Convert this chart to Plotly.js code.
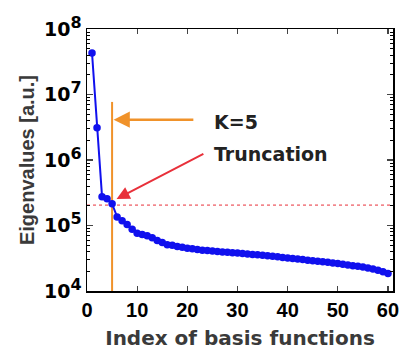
<!DOCTYPE html>
<html><head><meta charset="utf-8">
<script src="https://cdn.plot.ly/plotly-3.0.1.min.js"></script>
<style>html,body{margin:0;padding:0;background:#fff;}#plot{width:408px;height:350px;}</style>
</head><body><div id="plot"></div>
<script>
const indices = Array.from({length:60},(_,i)=>i+1);
const eigenvalues = [
 4.3e7, 3.1e6, 2.75e5, 2.55e5, 2.15e5, 1.35e5, 1.18e5, 1.04e5, 8.8e4, 7.6e4,
 7.3e4, 7.0e4, 6.5e4, 5.9e4, 5.5e4, 5.1e4, 5.0e4, 4.8e4, 4.65e4, 4.5e4,
 4.4e4, 4.3e4, 4.2e4, 4.15e4, 4.08e4, 4.0e4, 3.95e4, 3.9e4, 3.85e4, 3.8e4,
 3.74e4, 3.68e4, 3.62e4, 3.57e4, 3.5e4, 3.44e4, 3.38e4, 3.32e4, 3.26e4, 3.2e4,
 3.14e4, 3.08e4, 3.02e4, 2.96e4, 2.9e4, 2.85e4, 2.8e4, 2.74e4, 2.68e4, 2.62e4,
 2.56e4, 2.5e4, 2.44e4, 2.38e4, 2.32e4, 2.25e4, 2.17e4, 2.08e4, 1.97e4, 1.85e4
];
const truncationK = 5;
const thresholdValue = 2.05e5;
const kLineTop = 7.7e6;
const xTickVals = [0,10,20,30,40,50,60];
const yTickVals = [1e4,1e5,1e6,1e7,1e8];
const yTickExp = ['4','5','6','7','8'];
const yTickText = yTickExp.map(e => '10<sup><span style="font-size:16px">' + e + '</span></sup>');
const yMinorVals = [];
for (let d = 4; d < 8; d++) for (let m = 2; m <= 9; m++) yMinorVals.push(m * Math.pow(10, d));

const traces = [
 {x:[0,61], y:[thresholdValue,thresholdValue], mode:'lines', line:{color:'#e8303a', width:1, dash:'dot'}, hoverinfo:'skip'},
 {x:[truncationK,truncationK], y:[kLineTop,1e4], mode:'lines', line:{color:'#f0922a', width:2}, hoverinfo:'skip'},
 {x:indices, y:eigenvalues, mode:'lines+markers', line:{color:'#1010ee', width:2}, marker:{color:'#1010ee', size:7.5}},
 {x:[1], y:[1e5], yaxis:'y2', mode:'markers', marker:{opacity:0}, hoverinfo:'skip'}
];
const layout = {
 width:408, height:350, showlegend:false,
 paper_bgcolor:'#fff', plot_bgcolor:'#fff',
 margin:{l:87, r:15, t:29, b:59},
 font:{family:'Liberation Sans, Arial, sans-serif', color:'#000'},
 xaxis:{range:[0,61], tickvals:xTickVals, ticks:'inside', ticklen:5, tickwidth:1.2, mirror:'ticks',
   showline:true, linecolor:'#000', linewidth:1.5, showgrid:false, zeroline:false,
   tickfont:{size:20, family:'Liberation Sans, Arial', weight:'bold'},
   title:{text:'Index of basis functions', standoff:11, font:{size:20, family:'DejaVu Sans', weight:'bold', color:'#3a3a3a'}}},
 yaxis:{type:'log', range:[4,8], tickvals:yTickVals, ticktext:yTickText, ticks:'inside', ticklen:6, tickwidth:1.2, mirror:'ticks',
   showline:true, linecolor:'#000', linewidth:1.5, showgrid:false, zeroline:false,
   tickfont:{size:19, family:'DejaVu Sans', weight:'bold'},
   title:{text:'Eigenvalues [a.u.]', standoff:4, font:{size:20, family:'Liberation Sans, Arial', weight:'bold', color:'#3a3a3a'}}},
 yaxis2:{type:'log', range:[4,8], overlaying:'y', side:'left', tickvals:yMinorVals, ticks:'inside', ticklen:3, tickwidth:1,
   tickcolor:'#000', mirror:'ticks', showline:false, showticklabels:false, showgrid:false, zeroline:false},
 annotations:[
  {x:5.3, y:6.616, ax:21.5, ay:6.616, axref:'x', ayref:'y', xref:'x', yref:'y', text:'', showarrow:true,
   arrowhead:2, arrowsize:1.3, arrowwidth:2.5, arrowcolor:'#f0922a'},
  {x:5.9, y:5.405, ax:23.5, ay:6.104, axref:'x', ayref:'y', xref:'x', yref:'y', text:'', showarrow:true,
   arrowhead:2, arrowsize:1.3, arrowwidth:2, arrowcolor:'#e8303a'},
  {x:24.9, y:6.579, xref:'x', yref:'y', text:'K=5', showarrow:false, xanchor:'left', yanchor:'middle',
   font:{size:19, family:'DejaVu Sans', weight:'bold', color:'#222'}},
  {x:24.9, y:6.09, xref:'x', yref:'y', text:'Truncation', showarrow:false, xanchor:'left', yanchor:'middle',
   font:{size:19, family:'DejaVu Sans', weight:'bold', color:'#222'}}
 ]
};
Plotly.newPlot('plot', traces, layout, {displayModeBar:false, staticPlot:true});
</script></body></html>
